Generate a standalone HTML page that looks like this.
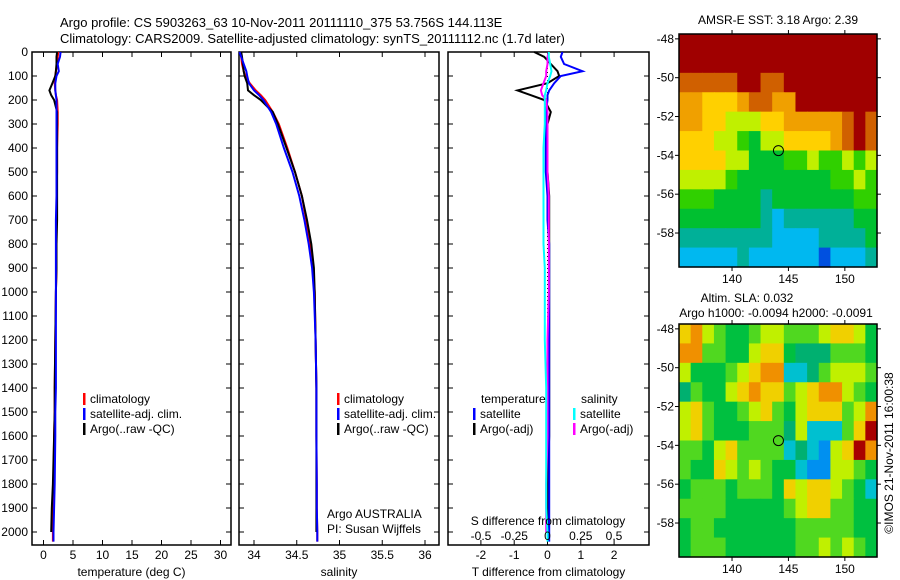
<!DOCTYPE html>
<html><head><meta charset="utf-8"><style>
html,body{margin:0;padding:0;background:#fff;}
svg{display:block;font-family:"Liberation Sans",sans-serif;}
</style></head><body>
<svg id="fig" width="900" height="580" viewBox="0 0 900 580"></svg>
<script>
// ---------- data ----------
const depths      = [0,20,50,80,100,130,160,180,200,250,300,400,500,600,700,800,900,1000,1200,1400,1500,1600,1800,1900,2000,2040];
const tempClim    = [2.5,2.4,2.3,2.1,2.0,1.9,2.0,2.1,2.3,2.4,2.4,2.3,2.3,2.2,2.2,2.2,2.2,2.1,2.0,1.9,1.9,1.8,1.7,1.6,1.6,1.6];
const tempSat     = [2.9,2.8,2.4,2.6,2.2,2.0,2.0,2.1,2.2,2.2,2.2,2.2,2.2,2.2,2.1,2.1,2.1,2.1,2.1,2.1,2.0,2.0,1.9,1.8,1.7,1.7];
const tempArgo    = [2.3,2.2,2.2,2.1,2.0,1.5,1.0,1.3,1.8,2.3,2.3,2.3,2.3,2.3,2.3,2.2,2.2,2.1,2.0,1.9,1.9,1.8,1.6,1.4,1.3,null];
const salClim     = [33.84,33.85,33.86,33.88,33.90,33.95,34.02,34.08,34.13,34.22,34.29,34.39,34.48,34.56,34.61,34.66,34.69,34.71,34.72,34.73,34.73,34.73,34.735,34.735,34.74,34.74];
const salSat      = [33.83,33.85,33.88,33.91,33.92,33.94,34.00,34.06,34.11,34.20,34.26,34.35,34.45,34.53,34.59,34.64,34.68,34.70,34.72,34.73,34.73,34.73,34.735,34.735,34.74,34.74];
const salArgo     = [33.85,33.86,33.87,33.88,33.89,33.92,33.93,34.00,34.08,34.22,34.28,34.38,34.48,34.56,34.62,34.67,34.70,34.71,34.72,34.73,34.73,34.73,34.73,34.73,34.73,null];
const tDiffSat    = [0.45,0.4,0.5,1.05,0.4,0.2,0.05,0.0,0.0,-0.05,-0.05,-0.05,-0.05,0.0,0.0,0.05,0.05,0.05,0.05,0.05,0.05,0.05,0.05,0.05,0.05,0.05];
const tDiffArgo   = [-0.4,-0.1,0.1,0.3,0.35,0.0,-0.9,-0.5,-0.1,0.1,0.0,0.0,0.0,0.05,0.05,0.05,0.05,0.05,0.05,0.05,0.05,0.05,0.0,0.0,0.0,null];
const sDiffSat    = [0.01,0.01,0.02,0.03,0.02,0.0,-0.01,-0.02,-0.02,-0.02,-0.02,-0.03,-0.03,-0.03,-0.03,-0.03,-0.02,-0.02,-0.02,-0.01,-0.01,-0.01,-0.01,-0.01,0.0,0.0];
const sDiffArgo   = [0.01,0.0,0.0,-0.01,-0.01,-0.03,-0.05,-0.04,-0.01,0.0,0.0,0.0,0.0,0.01,0.01,0.01,0.01,0.01,0.0,0.0,0.0,0.0,-0.01,-0.01,-0.01,null];

const depthTicks  = [0,100,200,300,400,500,600,700,800,900,1000,1100,1200,1300,1400,1500,1600,1700,1800,1900,2000];
const tempTicks   = [0,5,10,15,20,25,30];
const salTicks    = [34,34.5,35,35.5,36];
const tDiffTicks  = [-2,-1,0,1,2];
const sDiffTicks  = [-0.5,-0.25,0,0.25,0.5];
const lonTicks    = [140,145,150];
const latTicks    = [-48,-50,-52,-54,-56,-58];

// SST map rows (north to south), class 0..9
const sstRows = [
"99999999999999999",
"99999999999999999",
"88888998899999999",
"77666788779999999",
"77665556677777898",
"66655435566667898",
"66665533344544545",
"55554333333334454",
"44433332333333344",
"33333332122222233",
"22222222111122223",
"11111211111101112"];
// SLA map rows
const slaRows = [
"78654456655567764",
"88554467743335554",
"64445678822356665",
"35446787756788654",
"67544567546777568",
"67544455536222579",
"55467555523216798",
"54476565442116654",
"45554555476776542",
"55554444456775544",
"45544444445555544",
"45554444445565654"];
const sstColors = ["#0050e0","#00b8f0","#00b098","#00c030","#30d000","#c0f000","#ffd000","#f0a000","#d06000","#a00000"];
const slaColors = ["#0030c0","#0090f0","#00c0d0","#00b070","#00c040","#50d820","#c0f000","#f0d000","#f09000","#a80000"];
const argoLon = 144.113, argoLat = -53.756;

// ---------- helpers ----------
const NS="http://www.w3.org/2000/svg";
const svg=document.getElementById('fig');
function mk(tag,attrs,parent){const e=document.createElementNS(NS,tag);for(const k in attrs)e.setAttribute(k,attrs[k]);(parent||svg).appendChild(e);return e;}
function txt(x,y,s,anchor,size,parent){const t=mk('text',{x:x,y:y,'font-size':size||12,'text-anchor':anchor||'start',fill:'#000'},parent);t.textContent=s;return t;}

const Y0=52, Y2000=532, BOT=545;
const yD=d=>Y0+d*(Y2000-Y0)/2000;

// titles
let t1=txt(60,27,"Argo profile: CS 5903263_63 10-Nov-2011 20111110_375 53.756S 144.113E",'start',13);


let t2=txt(60,43,"Climatology: CARS2009. Satellite-adjusted climatology: synTS_20111112.nc (1.7d later)",'start',13);



function panel(name,L,R,xf,ticks,labelFmt,xlabel,showDepthLabels){
  const g=mk('g',{});
  
  
  mk('rect',{x:L,y:Y0,width:R-L,height:BOT-Y0,fill:'none',stroke:'#000','stroke-width':1.5},g);
  depthTicks.forEach(d=>{
    const y=yD(d);
    mk('line',{x1:L,y1:y,x2:L+5,y2:y,stroke:'#000'},g);
    mk('line',{x1:R-5,y1:y,x2:R,y2:y,stroke:'#000'},g);
    if(showDepthLabels){const tl=txt(L-4,y+4,String(d),'end',12,g);}
  });
  ticks.forEach(v=>{
    const x=xf(v);
    mk('line',{x1:x,y1:BOT,x2:x,y2:BOT-5,stroke:'#000'},g);
    mk('line',{x1:x,y1:Y0,x2:x,y2:Y0+5,stroke:'#000'},g);
    const tl=txt(x,559,labelFmt(v),'middle',12,g);
    
    
  });
  const xl=txt((L+R)/2,576,xlabel,'middle',12,g);
  
  
  return g;
}
function line(g,vals,xf,color,name,w){
  let d='';let pen=false;
  vals.forEach((v,i)=>{ if(v===null){pen=false;return;} d+=(pen?'L':'M')+xf(v).toFixed(1)+','+yD(depths[i]).toFixed(1); pen=true;});
  const p=mk('path',{d:d,fill:'none',stroke:color,'stroke-width':w||2},g);
  
  
}
function legend(g,x,y,color,label,name){
  mk('rect',{x:x,y:y-10,width:2.5,height:12,fill:color},g);
  const t=txt(x+7,y,label,'start',12,g);
  
  
}

// panel 1 temperature
const xT=v=>43.5+v*5.9;
const p1=panel('temperature-panel',32,231,xT,tempTicks,v=>String(v),'temperature (deg C)',true);
line(p1,tempClim,xT,'#ff0000','temp-climatology-line');
line(p1,tempArgo,xT,'#000000','temp-argo-line');
line(p1,tempSat,xT,'#0000ff','temp-satellite-line');
legend(p1,83,403,'#ff0000','climatology','legend-climatology');
legend(p1,83,418,'#0000ff','satellite-adj. clim.','legend-satellite');
legend(p1,83,433,'#000000','Argo(..raw -QC)','legend-argo');

// panel 2 salinity
const xS=v=>254+(v-34)*85.5;
const p2=panel('salinity-panel',239,439,xS,salTicks,v=>String(v),'salinity',false);
line(p2,salClim,xS,'#ff0000','sal-climatology-line');
line(p2,salArgo,xS,'#000000','sal-argo-line');
line(p2,salSat,xS,'#0000ff','sal-satellite-line');
legend(p2,337,403,'#ff0000','climatology','legend-climatology');
legend(p2,337,418,'#0000ff','satellite-adj. clim.','legend-satellite');
legend(p2,337,433,'#000000','Argo(..raw -QC)','legend-argo');
let a1=txt(327,518,'Argo AUSTRALIA','start',12,p2);
let a2=txt(327,533,'PI: Susan Wijffels','start',12,p2);

// panel 3 differences
const xTD=v=>547.5+v*33.3;
const xSD=v=>547.5+v*133;
const p3=panel('difference-panel',448,649,xTD,tDiffTicks,v=>String(v),'T difference from climatology',false);
mk('line',{x1:xTD(0),y1:Y0,x2:xTD(0),y2:BOT,stroke:'#000','stroke-dasharray':'1,3'},p3);
line(p3,tDiffArgo,xTD,'#000000','tdiff-argo-line');
line(p3,tDiffSat,xTD,'#0000ff','tdiff-satellite-line');
line(p3,sDiffArgo,xSD,'#ff00ff','sdiff-argo-line');
line(p3,sDiffSat,xSD,'#00ffff','sdiff-satellite-line');
let lt=txt(481,403,'temperature','start',12,p3);
let ls=txt(581,403,'salinity','start',12,p3);
legend(p3,473,418,'#0000ff','satellite','legend-t-satellite');
legend(p3,473,433,'#000000','Argo(-adj)','legend-t-argo');
legend(p3,573,418,'#00ffff','satellite','legend-s-satellite');
legend(p3,573,433,'#ff00ff','Argo(-adj)','legend-s-argo');
let sdt=txt(548,525,'S difference from climatology','middle',12,p3);
sDiffTicks.forEach(v=>{const t=txt(xSD(v),540,String(v),'middle',12,p3);});

// maps
function map(name,top,rows,colors,titleLines){
  const L=679,R=877,T=top,B=top+233;
  const g=mk('g',{});
  
  
  const lonL=135.3,lonR=152.85,latT=-47.75,latB=-59.75;
  const xm=lon=>L+(lon-lonL)*(R-L)/(lonR-lonL);
  const ym=lat=>T+(latT-lat)*(B-T)/(latT-latB);
  const nr=rows.length,nc=rows[0].length;
  const cw=(R-L)/nc,ch=(B-T)/nr;
  rows.forEach((row,r)=>{for(let c=0;c<nc;c++){
    const cell=mk('rect',{x:(L+c*cw).toFixed(2),y:(T+r*ch).toFixed(2),width:(cw+0.6).toFixed(2),height:(ch+0.6).toFixed(2),fill:colors[+row[c]]},g);
    
    
  }});
  mk('rect',{x:L,y:T,width:R-L,height:B-T,fill:'none',stroke:'#000','stroke-width':1.5},g);
  latTicks.forEach(l=>{const y=ym(l);mk('line',{x1:L-4,y1:y,x2:L,y2:y,stroke:'#000'},g);mk('line',{x1:R,y1:y,x2:R+4,y2:y,stroke:'#000'},g);
    const t=txt(L-5,y+4,String(l),'end',12,g);});
  lonTicks.forEach(l=>{const x=xm(l);mk('line',{x1:x,y1:B,x2:x,y2:B+4,stroke:'#000'},g);mk('line',{x1:x,y1:T-4,x2:x,y2:T,stroke:'#000'},g);
    const t=txt(x,B+16,String(l),'middle',12,g);});
  const c=mk('circle',{cx:xm(argoLon),cy:ym(argoLat),r:5,fill:'none',stroke:'#000','stroke-width':1},g);
  
  
  titleLines.forEach((s,i)=>{const t=txt(s[1],s[2],s[0],'middle',12,g);});
}
map('sst-map',34,sstRows,sstColors,[["AMSR-E SST: 3.18 Argo: 2.39",778,24]]);
map('sla-map',324,slaRows,slaColors,[["Altim. SLA: 0.032",747,302],["Argo h1000: -0.0094 h2000: -0.0091",776,317]]);

const cr=txt(0,0,'©IMOS 21-Nov-2011 16:00:38','middle',12);
cr.setAttribute('transform','translate(893,453) rotate(-90)');


</script>
</body></html>
